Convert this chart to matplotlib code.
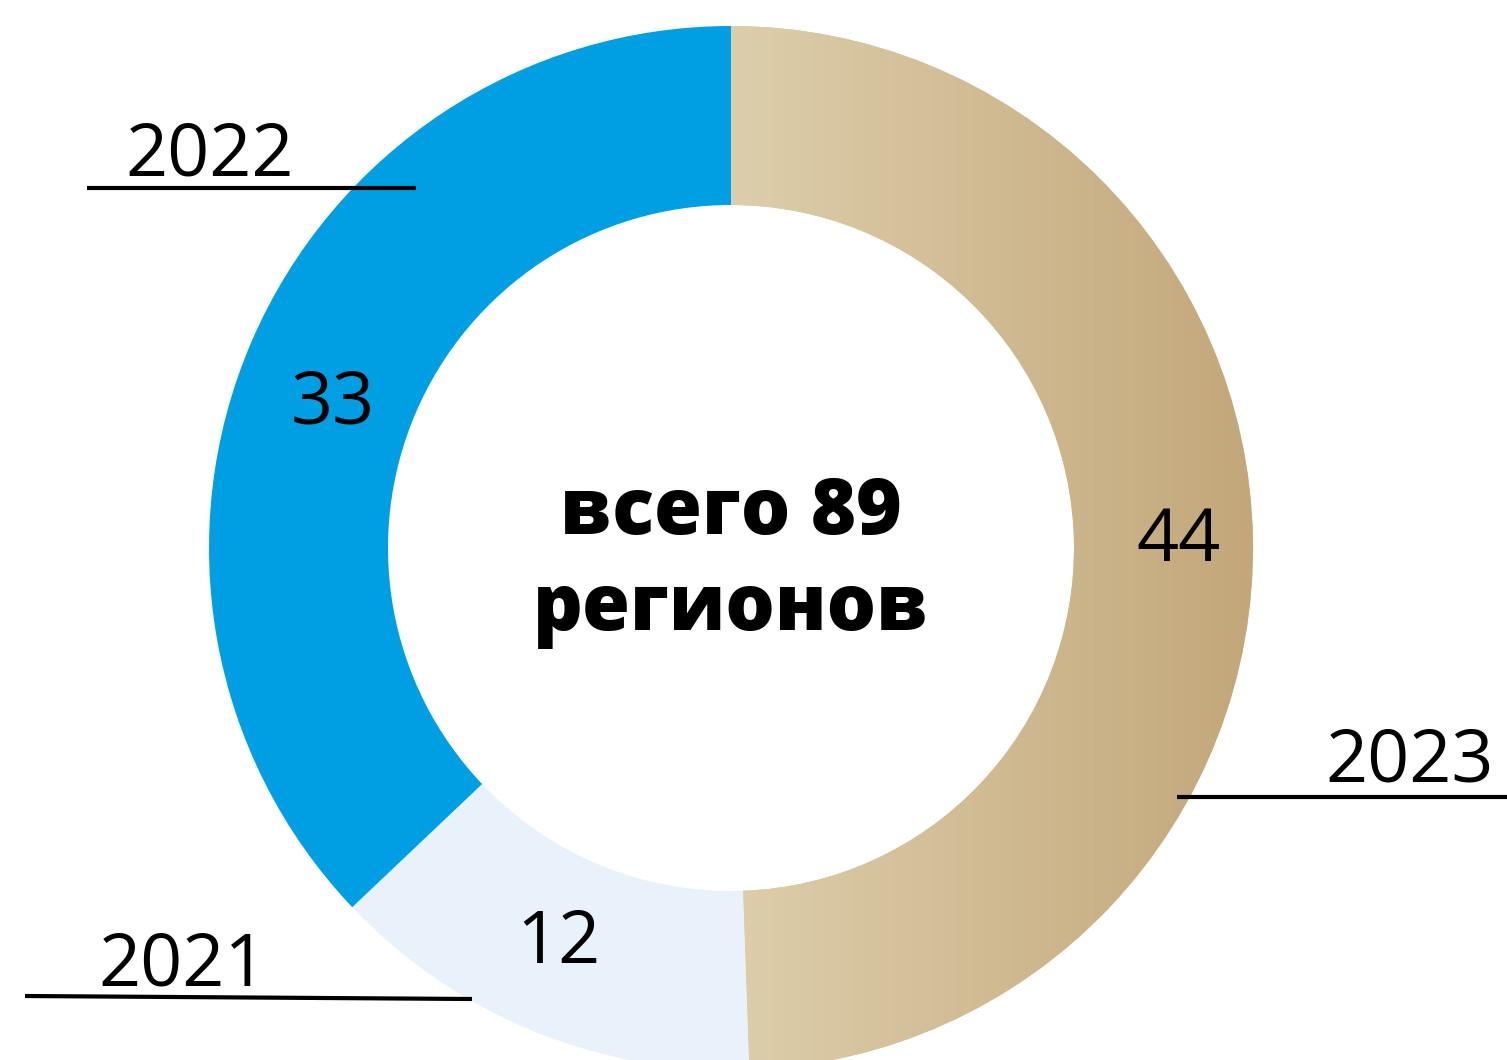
import matplotlib
matplotlib.use("Agg")
import matplotlib.pyplot as plt
import numpy as np
from matplotlib.colors import LinearSegmentedColormap

# Data
years = ["2023", "2021", "2022"]
values = [44, 12, 33]
total_label = "всего 89\nрегионов"

colors = ["#D6C49F", "#E9F2FA", "#009FE3"]

W, H = 1507, 1060
fig = plt.figure(figsize=(W / 100, H / 100), dpi=100)
ax = fig.add_axes([0, 0, 1, 1])

cx, cy = 731, H - 548
R = 522
width = 179

wedges, _ = ax.pie(values, colors=colors, center=(cx, cy), radius=R,
                   startangle=90, counterclock=False,
                   wedgeprops=dict(width=width, linewidth=0), frame=True)

# gradient fill for first wedge
cmap = LinearSegmentedColormap.from_list("gold", ["#DDCEAB", "#C3A77A"])
grad = np.linspace(0, 1, 256).reshape(1, -1)
im = ax.imshow(grad, cmap=cmap, extent=[cx, cx + R, cy - R, cy + R],
               aspect="auto", zorder=wedges[0].get_zorder() + 0.1)
im.set_clip_path(wedges[0])

ax.set_xlim(0, W)
ax.set_ylim(0, H)
ax.set_aspect("equal")
ax.axis("off")

font = "Open Sans"
fs = 53

# value labels
ax.text(333, H - 404, "33", fontsize=fs, family=font, ha="center", va="center", zorder=5)
ax.text(1178, H - 542, "44", fontsize=fs, family=font, ha="center", va="center", zorder=5)
ax.text(558, H - 944, "12", fontsize=fs, family=font, ha="center", va="center", zorder=5)

# year labels with underline
ax.text(210, H - 157, years[2], fontsize=fs, family=font, ha="center", va="center", zorder=5)
ax.plot([87, 416], [H - 188, H - 188], color="black", lw=3, zorder=5, solid_capstyle="butt")

ax.text(183, H - 966, years[1], fontsize=fs, family=font, ha="center", va="center", zorder=5)
ax.plot([25, 472], [H - 996, H - 999], color="black", lw=3, zorder=5, solid_capstyle="butt")

ax.text(1410, H - 763, years[0], fontsize=fs, family=font, ha="center", va="center", zorder=5)
ax.plot([1177, 1507], [H - 797, H - 797], color="black", lw=3, zorder=5, solid_capstyle="butt")

# center text
ax.text(cx, H - 562, total_label, fontsize=56, family=font, fontweight="heavy",
        ha="center", va="center", linespacing=1.3, zorder=5)

fig.savefig("out.png", dpi=100, facecolor="white")
